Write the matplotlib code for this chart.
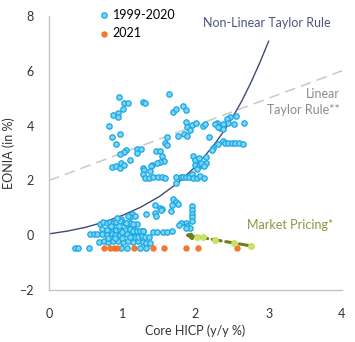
import matplotlib
matplotlib.use("Agg")
import matplotlib.pyplot as plt

plt.rcParams["font.family"] = ["Lato", "DejaVu Sans"]

# 1999-2020: core HICP (x) vs EONIA (y)
hist_x = [
    0.96, 1.02, 1.08, 1.01, 0.88, 0.94, 0.94, 1.29, 1.31, 1.64, 1.70, 1.74, 1.83, 1.87,
    0.82, 0.97, 0.86, 0.92, 1.05, 1.02, 0.97, 0.86, 0.91, 0.97, 0.98, 1.03, 1.10,
    1.20, 1.25, 1.20, 1.61, 1.59, 1.61, 1.76, 1.46, 1.51, 1.55, 1.57, 1.52, 1.47, 1.41,
    1.40, 1.29,
    1.30, 1.38, 1.28, 1.31, 1.37, 1.42, 1.49, 1.54, 1.59, 1.74, 1.73, 1.80, 1.83, 1.87,
    1.91, 1.96, 1.97, 2.02, 2.06, 2.12,
    1.87, 1.95, 2.01, 1.89, 1.93, 1.85, 1.89, 1.97, 1.99, 2.05, 1.99, 2.05, 2.11, 2.13,
    2.18, 2.47, 2.55, 2.43, 2.44, 2.52, 2.38, 2.34, 2.29, 2.27, 2.31, 2.37, 2.66,
    2.37, 2.40, 2.45, 2.50, 2.54, 2.59, 2.65, 2.31, 2.24, 2.22, 2.09, 2.14, 2.02, 2.08,
    2.12, 2.15,
    1.45, 1.52, 1.54, 1.45, 1.46, 1.53, 1.33, 1.70, 1.74, 1.68, 1.76, 1.66, 1.95, 1.96,
    1.96, 1.96, 1.95, 1.87, 1.80, 1.78, 1.89, 1.93, 1.87, 1.13, 1.11, 1.17, 1.20,
    0.95, 0.99, 1.08,
    0.70, 0.74, 0.79, 0.83, 0.88, 0.92, 0.97, 1.04, 1.08,
    0.72, 0.79, 0.86, 0.92, 0.97, 1.04, 1.11, 1.15,
    0.56, 0.61, 0.65, 0.72, 0.79, 0.86, 0.90, 0.97, 1.06, 1.15, 1.24, 1.29, 1.42, 1.47,
    1.56, 1.61, 1.68,
    1.11, 1.15, 1.11, 1.15, 1.20, 1.24, 1.29,
    0.68, 0.75, 0.81, 0.87, 0.94, 1.01, 1.08, 1.15, 1.22, 1.28, 1.33, 1.38,
    1.17, 1.22, 1.27, 1.31, 1.36, 1.11,
    0.36, 0.39, 0.55, 0.99, 1.06, 1.24, 1.33,
    0.85, 0.95, 1.00, 0.90, 1.00, 0.80, 1.05, 0.93,
]
hist_y = [
    5.03, 4.81, 4.84, 4.62, 4.38, 4.45, 4.30, 4.86, 4.81, 5.16, 4.51, 4.59, 4.72, 4.57,
    3.97, 3.68, 3.58, 3.32, 3.12, 3.05, 2.98, 2.49, 2.53, 2.47, 2.63, 2.58, 2.74,
    3.16, 3.16, 2.99, 3.57, 3.36, 3.28, 3.62, 3.08, 3.07, 2.88, 2.72, 2.69, 2.65, 2.57,
    2.53, 2.45,
    2.37, 2.34, 2.24, 2.09, 2.09, 2.14, 2.14, 2.11, 2.08, 2.13, 1.90, 2.13, 2.13, 2.13,
    2.13, 2.25, 2.08, 2.08, 2.16, 2.08,
    4.14, 4.03, 4.08, 3.95, 3.84, 3.71, 3.62, 2.89, 2.74, 2.81, 2.55, 2.53, 3.99, 4.05,
    3.58, 4.31, 4.35, 4.23, 4.08, 4.06, 4.05, 3.93, 4.08, 4.05, 3.95, 3.87, 4.11,
    3.44, 3.35, 3.35, 3.35, 3.37, 3.36, 3.32, 3.32, 3.20, 3.11, 2.57, 2.63, 2.43, 2.65,
    2.51, 2.84,
    1.09, 1.01, 0.95, 0.80, 0.70, 0.92, 0.78, 1.31, 1.22, 1.11, 1.13, 0.89, 1.05, 0.92,
    0.79, 0.67, 0.53, 0.46, 0.44, 0.38, 0.34, 0.26, 0.26, 0.77, 0.68, 0.70, 0.40,
    0.58, 0.58, 0.70,
    0.42, 0.48, 0.45, 0.50, 0.44, 0.47, 0.52, 0.43, 0.40,
    0.22, 0.20, 0.25, 0.18, 0.22, 0.20, 0.24, 0.22,
    0.03, 0.03, 0.03, 0.04, 0.00, 0.04, 0.00, 0.02, 0.03, 0.10, 0.10, 0.16, 0.10, 0.10,
    0.10, 0.12, 0.16,
    0.46, 0.40, 0.22, 0.16, 0.16, 0.16, 0.16,
    -0.25, -0.20, -0.25, -0.20, -0.22, -0.25, -0.20, -0.25, -0.20, -0.25, -0.30, -0.30,
    -0.08, -0.08, -0.03, -0.08, -0.08, -0.08,
    -0.45, -0.45, -0.45, -0.45, -0.45, -0.45, -0.45,
    0.32, 0.35, 0.10, -0.10, -0.10, -0.10, 0.45, 0.62,
]

# 2021
x_2021 = [0.75, 0.84, 0.89, 0.93, 1.16, 1.42, 1.57, 1.87, 2.03, 2.57]
y_2021 = [-0.47, -0.47, -0.47, -0.47, -0.47, -0.47, -0.47, -0.47, -0.47, -0.47]

# market pricing path
mkt_x = [2.76, 2.53, 2.27, 2.10, 2.02]
mkt_y = [-0.39, -0.29, -0.18, -0.08, -0.05]
arrow_end = (1.81, 0.04)

# Taylor rules
nl_x = [0.0, 0.25, 0.5, 0.75, 1.0, 1.25, 1.5, 1.75, 2.0, 2.25, 2.375, 2.5, 2.625, 2.75, 2.875, 3.0]
nl_y = [0.05, 0.15, 0.29, 0.48, 0.72, 1.02, 1.40, 1.89, 2.50, 3.28, 3.75, 4.27, 4.86, 5.53, 6.27, 7.08]
lin_x = [0.0, 4.0]
lin_y = [2.0, 6.0]

fig = plt.figure(figsize=(3.55, 3.42), dpi=100)
ax = fig.add_axes([0.138, 0.152, 0.825, 0.801])

ax.plot(lin_x, lin_y, color="#c8c8c8", lw=1.1, dashes=(7, 4), zorder=1)
ax.plot(nl_x, nl_y, color="#3d4b70", lw=1.0, zorder=2)

ax.scatter(hist_x, hist_y, s=15, color="#7fd3f5", edgecolors="#14a8e6",
           linewidths=0.9, zorder=3, label="1999-2020")
ax.scatter(x_2021, y_2021, s=15, color="#f47a30", edgecolors="#f26a1b",
           linewidths=0.6, zorder=4, label="2021")

ax.annotate("", xy=arrow_end, xytext=(mkt_x[0], mkt_y[0]),
            arrowprops=dict(arrowstyle="-|>", color="#6e7f1c", lw=2.2,
                            linestyle=(0, (3, 1.5)), mutation_scale=9), zorder=5)
ax.scatter(mkt_x, mkt_y, s=20, color="#cde06a", edgecolors="#c4d95a",
           linewidths=0.5, zorder=6)

ax.text(2.98, 7.74, "Non-Linear Taylor Rule", color="#4a5680", fontsize=9,
        ha="center", va="center")
ax.text(3.97, 4.87, "Linear\nTaylor Rule**", color="#8f8a88", fontsize=9,
        ha="right", va="center", linespacing=1.35)
ax.text(3.29, 0.36, "Market Pricing*", color="#8a9640", fontsize=9,
        ha="center", va="center")

ax.set_xlim(0, 4)
ax.set_ylim(-2, 8)
ax.set_xticks([0, 1, 2, 3, 4])
ax.set_yticks([-2, 0, 2, 4, 6, 8])
ax.tick_params(length=0, labelsize=9, colors="#333333", pad=13)
ax.tick_params(axis="y", pad=11)
for side in ["top", "right"]:
    ax.spines[side].set_visible(False)
for side in ["left", "bottom"]:
    ax.spines[side].set_color("#c4c4c4")
    ax.spines[side].set_linewidth(1.0)

ax.set_xlabel("Core HICP (y/y %)", fontsize=9, color="#333333", labelpad=3)
ax.set_ylabel("EONIA (in %)", fontsize=9, color="#333333", labelpad=3)

ax.legend(loc="upper left", bbox_to_anchor=(0.145, 1.045), frameon=False,
          fontsize=9, handletextpad=0.1, labelspacing=0.5, borderaxespad=0,
          handlelength=1.2)

fig.savefig("out.png", dpi=100)
